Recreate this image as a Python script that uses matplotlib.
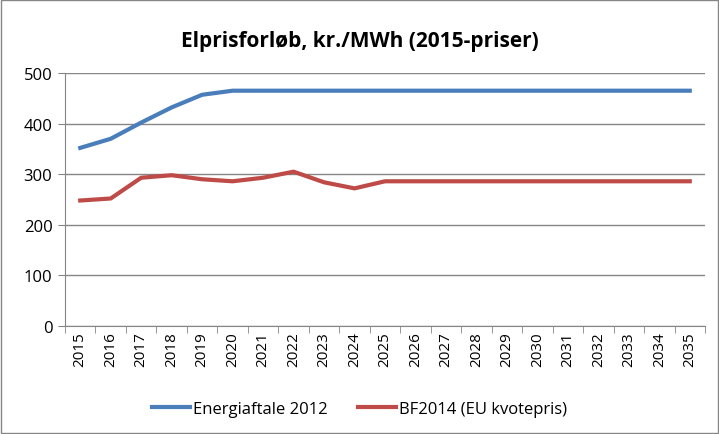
import numpy as np
import matplotlib.pyplot as plt
from matplotlib.patches import Rectangle

years = [str(y) for y in range(2015, 2036)]
energiaftale = [352, 370, 402, 432, 457, 465, 465, 465, 465, 465, 465,
                465, 465, 465, 465, 465, 465, 465, 465, 465, 465]
bf2014 = [248, 252, 293, 298, 290, 286, 293, 305, 284, 272, 286,
          286, 286, 286, 286, 286, 286, 286, 286, 286, 286]

plt.rcParams['font.family'] = ['Open Sans', 'DejaVu Sans']

fig = plt.figure(figsize=(7.19, 4.35), dpi=100)
fig.patches.append(Rectangle((0.002, 0.002), 0.996, 0.996, transform=fig.transFigure,
                             fill=False, edgecolor='#868686', linewidth=1.0))
ax = fig.add_axes([65 / 719, 1 - 327 / 435, 640 / 719, 253 / 435])

x = np.arange(len(years))
ax.plot(x, energiaftale, color='#4a7ebb', linewidth=3, label='Energiaftale 2012')
ax.plot(x, bf2014, color='#be4b48', linewidth=3, label='BF2014 (EU kvotepris)')

ax.set_xlim(-0.5, len(years) - 0.5)
ax.set_ylim(0, 500)
ax.set_yticks([0, 100, 200, 300, 400, 500])
ax.grid(axis='y', color='#868686', linewidth=1)
ax.set_axisbelow(True)

ax.set_xticks(x)
ax.set_xticklabels(years, rotation=90, fontsize=11)
ax.set_xticks(np.arange(-0.5, len(years), 1), minor=True)
ax.tick_params(axis='x', which='major', length=0, pad=4)
ax.tick_params(axis='x', which='minor', length=5, color='#868686')
ax.tick_params(axis='y', length=5, color='#868686', labelsize=12, pad=4)

for s in ['top', 'right']:
    ax.spines[s].set_visible(False)
ax.spines['left'].set_color('#868686')
ax.spines['bottom'].set_color('#868686')

fig.text(0.5, 1 - 42 / 435, 'Elprisforløb, kr./MWh (2015-priser)', ha='center', va='center',
         fontsize=15, fontweight='bold')

fig.legend(loc='center', bbox_to_anchor=(0.5, 1 - 410 / 435), ncol=2, frameon=False,
           fontsize=12, handlelength=2.3, columnspacing=1.8, handletextpad=0.2)

fig.savefig('out.png', dpi=100)
